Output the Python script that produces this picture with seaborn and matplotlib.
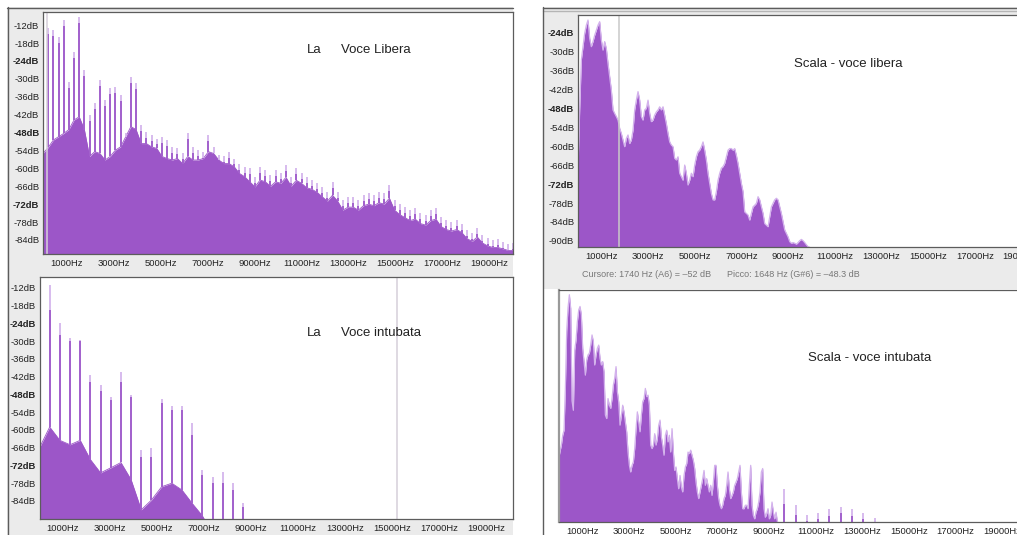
import numpy as np
import matplotlib.pyplot as plt
import seaborn as sns
from matplotlib.patches import Rectangle
from matplotlib.lines import Line2D

# ---------------------------------------------------------------------------
# spectrum values (dB against Hz)
# ---------------------------------------------------------------------------
# "La - Voce Libera": partials of 220 Hz, peak level and level of the body
A_F0 = 220
A_PEAK = [-13.1, -13.7, -15.9, -10.3, -31.0, -21.0, -9.2, -27.0, -42.0, -38.0,
          -30.4, -37.0, -33.0, -32.7, -35.5, -48.0, -29.3, -31.3, -45.5, -47.7,
          -48.9, -50.0, -49.4, -50.5, -52.8, -53.3, -55.0, -48.3, -52.8, -53.9,
          -54.4, -48.9, -52.8, -55.6, -56.0, -54.4, -56.7, -58.4, -59.5, -60.0,
          -62.8, -59.5, -60.6, -62.3, -60.6, -61.7, -58.9, -62.8, -60.0, -61.7,
          -62.8, -63.9, -65.0, -66.2, -67.9, -64.5, -67.9, -70.6, -69.5, -69.5,
          -70.6, -68.9, -68.4, -68.9, -67.9, -68.4, -65.6, -70.6, -71.8, -72.9,
          -74.0, -73.4, -75.1, -75.7, -74.0, -73.4, -76.2, -77.3, -77.9, -77.3,
          -78.5, -80.7, -81.8, -80.1, -82.4, -83.5, -84.0, -83.8, -84.6, -85.2,
          -85.0]
A_FLOOR = [-55.0, -53.0, -50.5, -49.4, -48.3, -47.0, -43.8, -42.7, -47.0, -56.0,
           -54.4, -55.0, -57.2, -56.0, -53.9, -52.8, -49.4, -46.0, -47.0, -51.7,
           -51.7, -52.8, -53.3, -56.0, -56.7, -57.2, -56.7, -58.4, -56.0, -57.2,
           -57.2, -56.7, -54.4, -55.0, -57.2, -58.4, -58.4, -59.5, -61.7, -62.8,
           -64.5, -66.2, -63.9, -64.5, -66.0, -64.5, -65.0, -63.0, -66.0, -64.0,
           -65.0, -66.5, -67.0, -68.0, -69.5, -71.0, -69.0, -71.0, -74.0, -73.0,
           -73.0, -74.0, -72.5, -72.0, -72.5, -71.5, -72.0, -70.0, -74.0, -75.5,
           -76.5, -77.5, -77.0, -78.5, -79.0, -77.5, -77.0, -79.5, -80.5, -81.0,
           -80.5, -81.5, -83.5, -84.5, -83.0, -85.0, -86.0, -86.5, -86.5, -87.0,
           -87.5, -87.5]
A_CURSOR = 190

# "La - Voce intubata": partials of ~433 Hz
B_F0 = 433
B_PEAK = [-11.0, -24.0, -29.0, -29.6, -41.4, -44.8, -48.7, -40.3, -48.2, -66.8,
          -66.2, -49.6, -52.0, -52.0, -57.8, -73.5, -75.8, -74.1, -78.0, -84.6]
B_PEAK_DARK = [-19.4, -27.9, -30.0, -30.0, -43.7, -47.0, -49.9, -43.7, -48.7, -69.0,
               -69.2, -51.0, -53.1, -53.1, -61.8, -75.2, -78.0, -78.0, -80.4, -86.0]
B_FLOOR = [-66.0, -59.0, -63.5, -65.0, -63.5, -70.0, -74.5, -72.8, -71.0, -76.8,
           -87.0, -83.7, -79.2, -78.0, -80.3, -84.8, -89.0, -95.0, -95.0, -95.0,
           -95.0]
B_CURSOR = 15210

# "Scala - voce libera": envelope every 71.4 Hz
C_STEP = 71.4
C_DB = [-67.6, -48.6, -32.8, -28.6, -24.4, -21.8, -20.2, -26.0, -28.6, -27.0,
        -25.0, -23.4, -21.8, -20.7, -26.5, -29.7, -27.0, -29.2, -33.9, -38.1,
        -42.3, -48.6, -49.7, -50.7, -51.8, -54.4, -56.0, -58.1, -60.2, -57.6,
        -56.5, -59.2, -58.1, -55.0, -48.6, -45.5, -42.8, -45.5, -50.7, -51.8,
        -48.6, -48.1, -45.5, -49.7, -52.3, -51.8, -50.2, -49.2, -48.6, -47.6,
        -48.6, -47.6, -50.2, -52.9, -56.0, -58.7, -59.7, -60.2, -63.9, -64.4,
        -63.4, -68.6, -69.7, -70.8, -66.0, -68.6, -72.3, -70.8, -68.6, -69.7,
        -66.0, -63.4, -61.8, -61.3, -60.2, -58.7, -61.3, -64.4, -68.6, -71.8,
        -75.0, -77.0, -77.0, -74.4, -70.8, -68.6, -67.0, -66.5, -65.5, -63.4,
        -61.3, -60.8, -60.8, -61.3, -60.8, -62.9, -65.5, -68.6, -71.8, -74.4,
        -80.8, -81.3, -81.8, -83.4, -81.3, -79.2, -78.7, -78.1, -76.0, -77.0,
        -79.2, -81.3, -84.5, -85.0, -85.5, -82.3, -79.2, -78.1, -77.0, -76.5,
        -77.0, -79.2, -81.3, -83.9, -86.5, -87.6, -88.7, -90.2, -90.7, -90.5,
        -90.7, -91.0, -90.5, -89.9, -89.5, -89.9, -90.5, -91.2, -91.8, -92.0]
C_CURSOR = 1740

# "Scala - voce intubata": envelope every 57.1 Hz, then isolated partials
D_STEP = 57.1
D_DB = [-64.3, -62.0, -60.0, -56.9, -55.3, -42.0, -24.0, -16.5, -12.5, -16.8,
        -46.0, -49.0, -30.0, -26.8, -21.0, -17.3, -16.2, -18.9, -29.4, -33.6,
        -37.9, -33.1, -31.5, -31.0, -28.4, -25.2, -27.3, -34.7, -31.5, -29.4,
        -28.4, -32.6, -34.7, -33.6, -36.8, -50.5, -51.6, -45.3, -47.4, -48.4,
        -45.3, -41.0, -38.9, -35.2, -43.1, -46.3, -53.7, -50.5, -47.4, -49.5,
        -52.7, -55.8, -62.2, -66.4, -68.5, -66.4, -65.3, -61.1, -54.8, -49.5,
        -52.7, -55.8, -50.5, -46.3, -45.3, -42.1, -44.7, -44.2, -47.4, -60.0,
        -61.1, -60.0, -56.4, -60.0, -57.9, -53.7, -52.1, -57.4, -60.0, -63.2,
        -56.9, -55.3, -59.0, -56.9, -62.2, -54.8, -62.2, -68.0, -66.9, -70.6,
        -73.8, -69.6, -73.2, -74.8, -69.6, -66.9, -65.9, -62.2, -62.7, -61.6,
        -63.2, -64.8, -67.4, -71.7, -74.8, -76.9, -74.8, -72.7, -70.6, -68.0,
        -72.7, -70.6, -72.7, -74.8, -72.7, -75.9, -71.7, -66.4, -66.4, -72.7,
        -76.9, -79.0, -80.1, -79.0, -76.9, -75.9, -72.7, -68.5, -73.8, -76.9,
        -75.9, -74.8, -72.7, -71.7, -70.6, -68.5, -66.4, -74.8, -80.1, -80.1,
        -79.0, -79.0, -80.1, -72.7, -66.4, -79.0, -82.2, -83.3, -81.2, -80.1,
        -78.0, -74.8, -68.5, -67.4, -80.1, -82.8, -81.7, -80.1, -83.3, -82.2,
        -78.0, -81.2, -83.3, -81.2, -84.1, -85.0, -85.0]
D_SPIKE_HZ = [9650, 10150, 10620, 11120, 11590, 12090, 12560, 13050, 13530]
D_SPIKE_TOP = [-73.8, -79.0, -82.0, -81.4, -80.1, -79.5, -80.1, -81.4, -83.0]
D_SPIKE_DARK = [-78.5, -82.2, -84.0, -83.5, -82.3, -81.5, -82.3, -83.2, -84.5]

TITLES = ["La", "Voce Libera", "La", "Voce intubata",
          "Scala - voce libera", "Scala - voce intubata"]
STATUS = ["Cursore: 1740 Hz (A6) = \u201352 dB", "Picco: 1648 Hz (G#6) = \u201348.3 dB"]

# ---------------------------------------------------------------------------
W, H = 1017, 535
PURPLE = "#9c56c8"
LILAC = "#d3b2ec"
GREY_BG = "#ebebeb"
EDGE = "#5c5c5c"

sns.set_style("white")
plt.rcParams["font.family"] = ["Liberation Sans", "DejaVu Sans"]

fig = plt.figure(figsize=(W / 100, H / 100), dpi=100)


def box(x0, y0, x1, y1):
    return [x0 / W, 1 - y1 / H, (x1 - x0) / W, (y1 - y0) / H]


def bg(x0, y0, x1, y1, color):
    fig.add_artist(Rectangle((x0 / W, 1 - y1 / H), (x1 - x0) / W, (y1 - y0) / H,
                             transform=fig.transFigure, facecolor=color,
                             edgecolor="none", zorder=-5))


def line(xs, ys, color=EDGE, lw=1.0):
    fig.add_artist(Line2D([x / W for x in xs], [1 - y / H for y in ys],
                          transform=fig.transFigure, color=color, lw=lw, zorder=-4))


# screenshot chrome
bg(7, 7, 513, 535, GREY_BG)
bg(543, 7, W, 289, GREY_BG)
line([7, 513], [7.5, 7.5])
line([7.5, 7.5], [7, 535])
line([543, W], [7.5, 7.5])
line([543, W], [10.5, 10.5], color="#b5b5b5")
line([543, 543], [7, 535])


def style(ax, xmax, ylim, yticks, ylabels=True):
    ax.set_facecolor("white")
    ax.set_xlim(0, xmax)
    ax.set_ylim(*ylim)
    major = np.arange(1000, xmax, 2000)
    ax.set_xticks(major)
    ax.set_xticklabels([f"{int(v)}Hz" for v in major])
    ax.set_xticks(np.arange(0, xmax, 500), minor=True)
    ax.set_yticks(yticks)
    ax.set_yticklabels([f"{int(v)}dB" for v in yticks])
    for lab, v in zip(ax.get_yticklabels(), yticks):
        if v in (-24, -48, -72):
            lab.set_fontweight("bold")
    ax.tick_params(axis="both", which="both", direction="out", colors="#555",
                   width=0.8, labelsize=6.8, labelcolor="#222")
    ax.tick_params(axis="x", which="major", length=3, pad=0.8)
    ax.tick_params(axis="x", which="minor", length=2.5)
    ax.tick_params(axis="y", length=2.2, pad=0.5, labelleft=ylabels)
    for s in ax.spines.values():
        s.set_color(EDGE)
        s.set_linewidth(0.9)
    ax.set_xlabel("")
    ax.set_ylabel("")


def harmonic_panel(ax, f0, floor, peak, dark, ylo, cursor):
    floor = np.array(floor)
    hz = np.arange(len(floor)) * f0
    ax.fill_between(hz, floor, ylo, color=PURPLE, lw=0)
    sns.lineplot(x=hz, y=floor, color=PURPLE, lw=0.6, ax=ax)
    top = np.array(peak)
    hp = np.arange(1, len(top) + 1) * f0
    base = np.maximum(floor[1:len(top) + 1], ylo)
    ax.vlines(hp, base, top, color=LILAC, lw=1.25)
    ax.vlines(hp, base, np.maximum(np.array(dark), base), color=PURPLE, lw=1.25)
    ax.axvline(cursor, color="#d6d0da", lw=1.1)


# --- La, voce libera -------------------------------------------------------
axA = fig.add_axes(box(43, 12, 513, 254))
ylimA = (-88.7, -7.6)
harmonic_panel(axA, A_F0, A_FLOOR, A_PEAK, np.array(A_PEAK) - 2, ylimA[0], A_CURSOR)
style(axA, 20000, ylimA, np.arange(-12, -85, -6))

# --- La, voce intubata -----------------------------------------------------
axB = fig.add_axes(box(39.5, 277, 513, 519))
ylimB = (-90.1, -8.3)
harmonic_panel(axB, B_F0, B_FLOOR, B_PEAK, B_PEAK_DARK, ylimB[0], B_CURSOR)
style(axB, 20147, ylimB, np.arange(-12, -85, -6))

# --- Scala, voce libera ----------------------------------------------------
axC = fig.add_axes(box(578, 15, 1040, 247))
ylimC = (-91.9, -18.6)
hzC = np.arange(len(C_DB)) * C_STEP
axC.fill_between(hzC, C_DB, ylimC[0], color=PURPLE, lw=0)
sns.lineplot(x=hzC, y=C_DB, color=LILAC, lw=0.9, ax=axC)
axC.axvline(C_CURSOR, color="#c9c9c9", lw=1.1)
style(axC, 19787, ylimC, np.arange(-24, -91, -6))

# --- Scala, voce intubata --------------------------------------------------
axD = fig.add_axes(box(558.7, 290, 1040, 522))
ylimD = (-84.3, -11.0)
hzD = np.arange(len(D_DB)) * D_STEP
axD.fill_between(hzD, D_DB, ylimD[0], color=PURPLE, lw=0)
sns.lineplot(x=hzD, y=D_DB, color=LILAC, lw=0.9, ax=axD)
axD.vlines(D_SPIKE_HZ, ylimD[0], D_SPIKE_TOP, color=LILAC, lw=1.25)
axD.vlines(D_SPIKE_HZ, ylimD[0], D_SPIKE_DARK, color=PURPLE, lw=1.25)
style(axD, 20614, ylimD, np.arange(-12, -85, -6), ylabels=False)
axD.spines["left"].set_color("#9a9a9a")
axD.spines["left"].set_linewidth(1.6)

# titles and status line
tk = dict(fontsize=9.5, color="#222", va="center", ha="left")
for s, (x, y) in zip(TITLES, [(307, 50), (341, 50), (307, 333), (341, 333),
                               (794, 64), (808, 358)]):
    fig.text(x / W, 1 - y / H, s, **tk)
for s, x in zip(STATUS, [582, 727]):
    fig.text(x / W, 1 - 275 / H, s, fontsize=6.5, color="#777", va="center", ha="left")

fig.savefig("out.png", dpi=100)
